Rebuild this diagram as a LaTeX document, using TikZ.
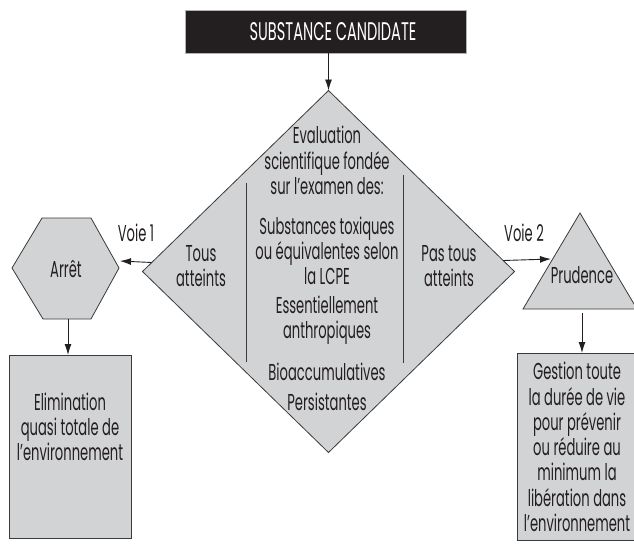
\documentclass[tikz,border=0pt]{standalone}
\usepackage{fontspec}
\setmainfont{Poppins}[FakeStretch=0.57]
\usetikzlibrary{shapes.geometric,arrows.meta}
\definecolor{boxgray}{HTML}{D2D3D5}
\definecolor{inkdark}{HTML}{231F20}
\definecolor{strokegray}{HTML}{3A3A3A}
\newcommand\dtxt{\fontsize{23}{25.3}\selectfont}
\begin{document}
\begin{tikzpicture}[x=1pt,y=-1pt,
  shapestyle/.style={draw=strokegray,fill=boxgray,line width=0.8pt},
  txt/.style={font=\dtxt,text=inkdark,align=center,inner sep=0pt},
  arr/.style={-{Latex[length=11pt,width=7pt]},line width=0.9pt,draw=inkdark},
  divider/.style={draw=strokegray,line width=0.9pt}]
\useasboundingbox (0,0) rectangle (634,558);
% top box
\node[fill=inkdark,draw=gray!60,line width=0.6pt,minimum width=281pt,minimum height=43pt,
      inner sep=0pt,text=white,font=\fontsize{25.5}{25}\selectfont] (top) at (325.5,31.5)
      {\hspace*{15pt}SUBSTANCE CANDIDATE};
% diamond
\node[diamond,shapestyle,minimum width=372pt,minimum height=362pt,inner sep=0pt,outer sep=0pt]
      (dia) at (328.5,271.5) {};
\draw[divider] (246,183) -- (246,362);
\draw[divider] (403,175) -- (403,363);
\node[txt] (eval) at (327,160.5) {Evaluation\\scientifique fondée\\sur l’examen des:};
\node[txt] (subst) at (327,251) {Substances toxiques\\ou équivalentes selon\\la LCPE};
\node[txt] (ess) at (327,320.5) {Essentiellement\\anthropiques};
\node[txt] (bio) at (327,372) {Bioaccumulatives};
\node[txt] (pers) at (327,402) {Persistantes};
\node[txt] (tous) at (201,266) {Tous\\atteints};
\node[txt] (pastous) at (449,266) {Pas tous\\atteints};
% hexagon
\draw[shapestyle] (42,218) -- (91,218) -- (119,268) -- (91,319) -- (43,319) -- (12,268) -- cycle;
\node[txt] (arret) at (66,269) {Arrêt};
\coordinate (hexE) at (120,261);
\coordinate (hexS) at (68,319);
% triangle
\draw[shapestyle] (580,213) -- (637,309) -- (523,309) -- cycle;
\node[txt] (prud) at (582,275) {Prudence};
\coordinate (triW) at (551,259);
\coordinate (triS) at (582,313);
% boxes
\node[shapestyle,minimum width=122pt,minimum height=183pt,anchor=north west,inner sep=0pt]
      (elim) at (9,355) {};
\node[txt] (elimtxt) at (70,427) {Elimination\\quasi totale de\\l’environnement};
\node[shapestyle,minimum width=122pt,minimum height=187pt,anchor=north west,inner sep=0pt]
      (gest) at (517,353) {};
\node[txt] (gesttxt) at (577,447) {Gestion toute\\la durée de vie\\pour prévenir\\ou réduire au\\minimum la\\libération dans\\l’environnement};
% labels
\node[txt] (voie1) at (136,233) {Voie 1};
\node[txt] (voie2) at (524,233) {Voie 2};
% connectors
\draw[arr] (dia.north |- top.south) -- (dia.north);
\path (dia.west) ++(9.2,-9) coordinate (diaW);
\path (dia.east) ++(-11.3,-11) coordinate (diaE);
\draw[arr] (diaW) -- (hexE);
\draw[arr] (diaE) -- (triW);
\draw[arr] (hexS) -- (elim.north -| hexS);
\draw[arr] (triS) -- (gest.north -| triS);
\end{tikzpicture}
\end{document}
